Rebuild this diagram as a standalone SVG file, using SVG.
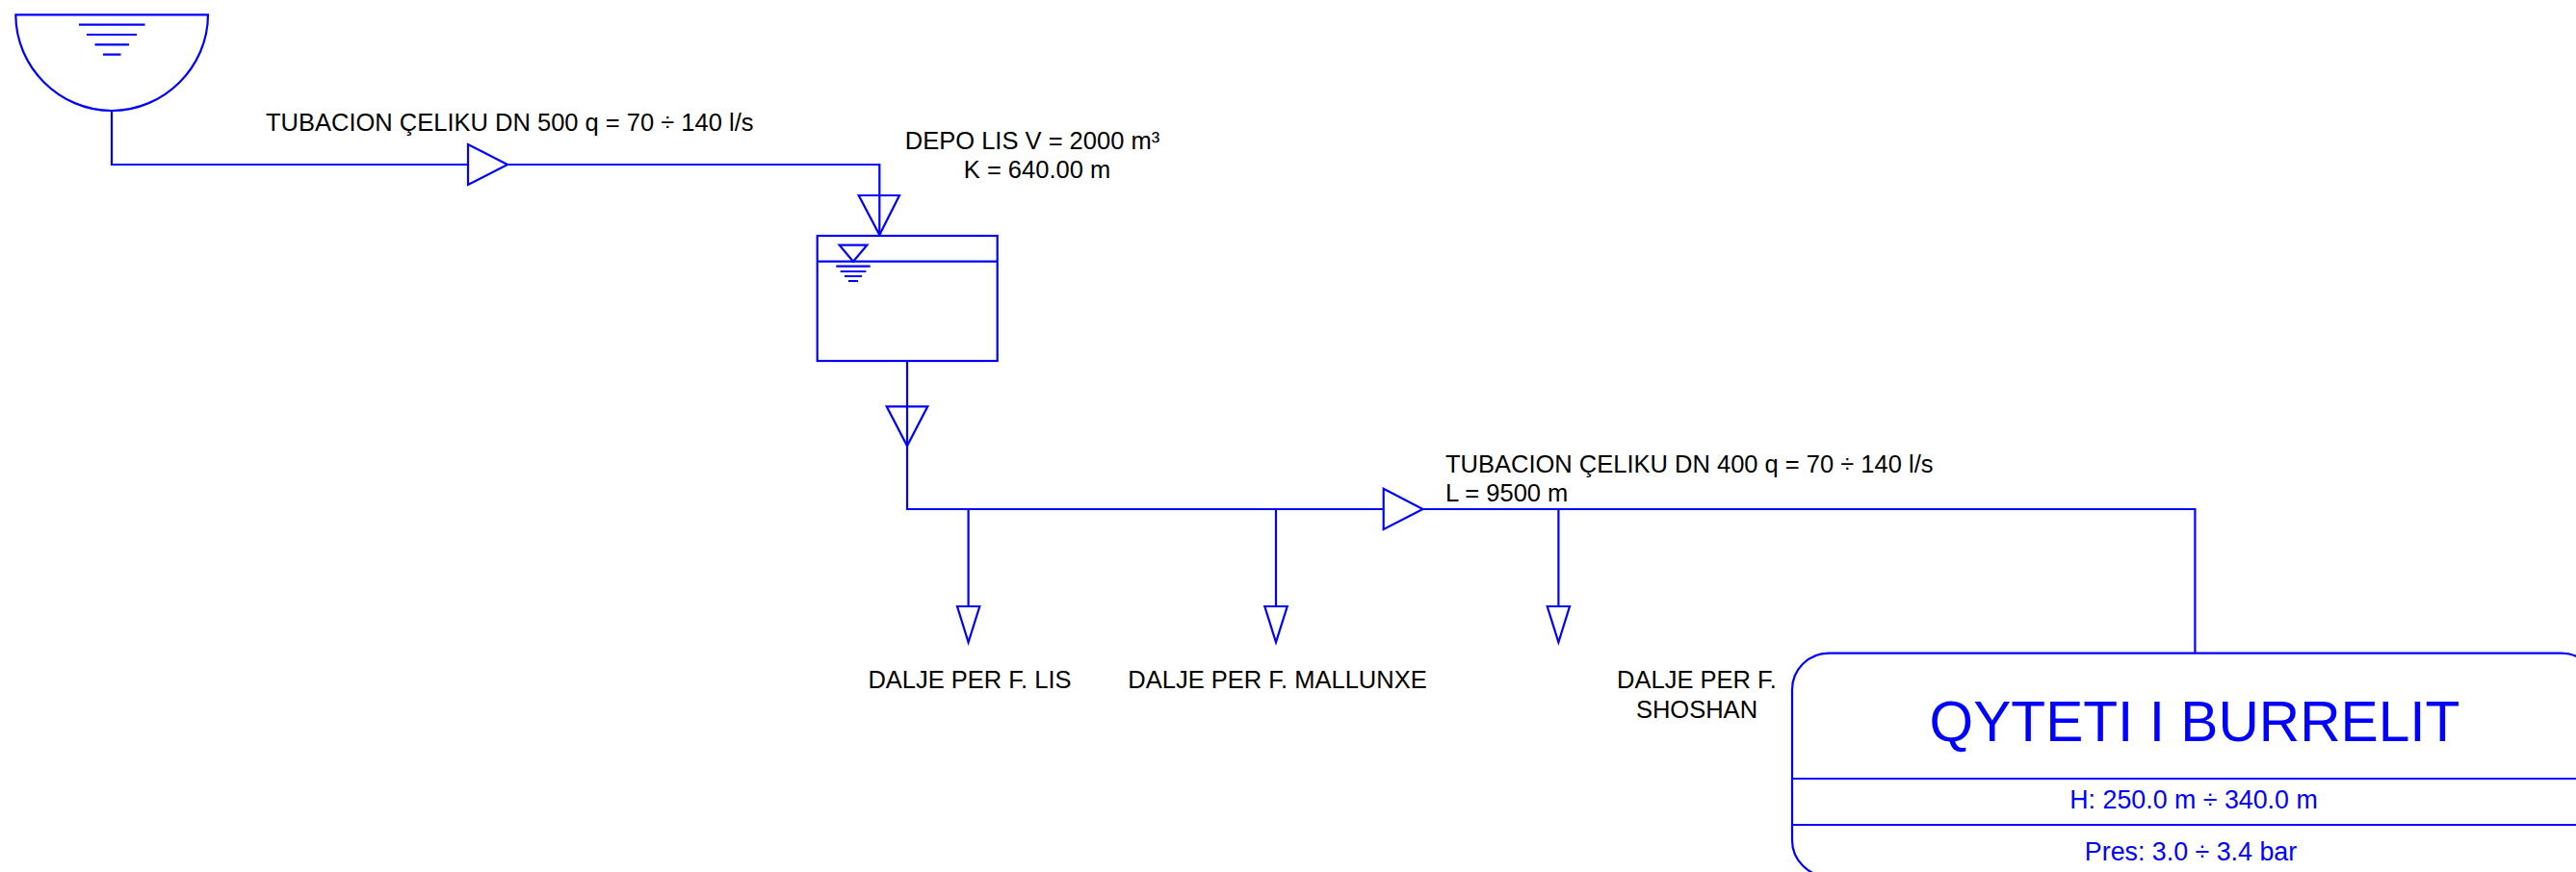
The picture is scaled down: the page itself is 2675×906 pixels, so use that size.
<svg xmlns="http://www.w3.org/2000/svg" width="2675" height="906" viewBox="0 0 2675 906">
<style>
.s{fill:none;stroke:#0000ff;stroke-width:2.2}
.t{fill:#fff;stroke:#0000ff;stroke-width:2.2}
text{font-family:"Liberation Sans",Arial,sans-serif;font-size:25.5px;fill:#000}
.b{fill:#0000ff;font-size:26.8px}
.m{text-anchor:middle}
</style>
<rect width="2675" height="906" fill="#fff"/>
<g id="connectors">
<path class="s" d="M116 115V171H486M527 171H913.3V244"/>
<path class="s" d="M942 375V529H1436.7M1477.5 529H2279.4V678.7"/>
<path class="s" d="M1005.6 529V630M1325 529V630M1618.4 529V630"/>
</g>
<g id="source-tank">
<path class="t" d="M16.3 15.3H216C216 70 170 115 116 115C62 115 16.3 70 16.3 15.3Z"/>
<path class="s" d="M82 25.7H150.5M90 36H142M98.5 46.3H134M107 56.7H125.5"/>
</g>
<g id="valve-1"><path class="s" d="M486 150V192L527 171Z"/></g>
<g id="inlet-marker"><path class="s" d="M891.7 203H934L913.3 244Z"/></g>
<g id="depo-lis">
<rect class="t" x="848.7" y="245" width="187" height="130"/>
<path class="s" d="M848.7 271.7H1035.7"/>
<path class="s" d="M871.7 254.7H900.3L886 271.7Z"/>
<path class="s" d="M868.3 276.7H903.7M872.7 282H899.3M877 287H895M881 292H891"/>
<text class="m" x="1072" y="155">DEPO LIS V = 2000 m³</text>
<text class="m" x="1077" y="185">K = 640.00 m</text>
</g>
<g id="outlet-marker"><path class="s" d="M920.7 422.3H963.3L942 463.3Z"/></g>
<g id="valve-2"><path class="s" d="M1436.7 507.7V550L1477.5 529Z"/></g>
<g id="pipe-label-1"><text x="276" y="136">TUBACION ÇELIKU DN 500 q = 70 ÷ 140 l/s</text></g>
<g id="pipe-label-2"><text x="1501" y="490.7">TUBACION ÇELIKU DN 400 q = 70 ÷ 140 l/s</text><text x="1501" y="520.7">L = 9500 m</text></g>
<g id="outlet-lis"><path class="s" d="M994 630H1017.3L1005.6 667.3Z"/><text class="m" x="1007" y="715">DALJE PER F. LIS</text></g>
<g id="outlet-mallunxe"><path class="s" d="M1313.3 630H1336.7L1325 667.3Z"/><text class="m" x="1326.5" y="714.7">DALJE PER F. MALLUNXE</text></g>
<g id="outlet-shoshan"><path class="s" d="M1606.7 630H1630L1618.4 667.3Z"/><text class="m" x="1762" y="715">DALJE PER F.</text><text class="m" x="1762" y="745.7">SHOSHAN</text></g>
<g id="qyteti-burrelit">
<rect class="s" x="1861" y="678.7" width="836.8" height="232" rx="38" ry="38"/>
<path class="s" d="M1861 809H2697.8M1861 857H2697.8"/>
<text class="m b" x="2279" y="770" style="font-size:58.67px">QYTETI I BURRELIT</text>
<text class="m b" x="2278" y="840">H: 250.0 m ÷ 340.0 m</text>
<text class="m b" x="2275" y="894">Pres: 3.0 ÷ 3.4 bar</text>
</g>
</svg>
